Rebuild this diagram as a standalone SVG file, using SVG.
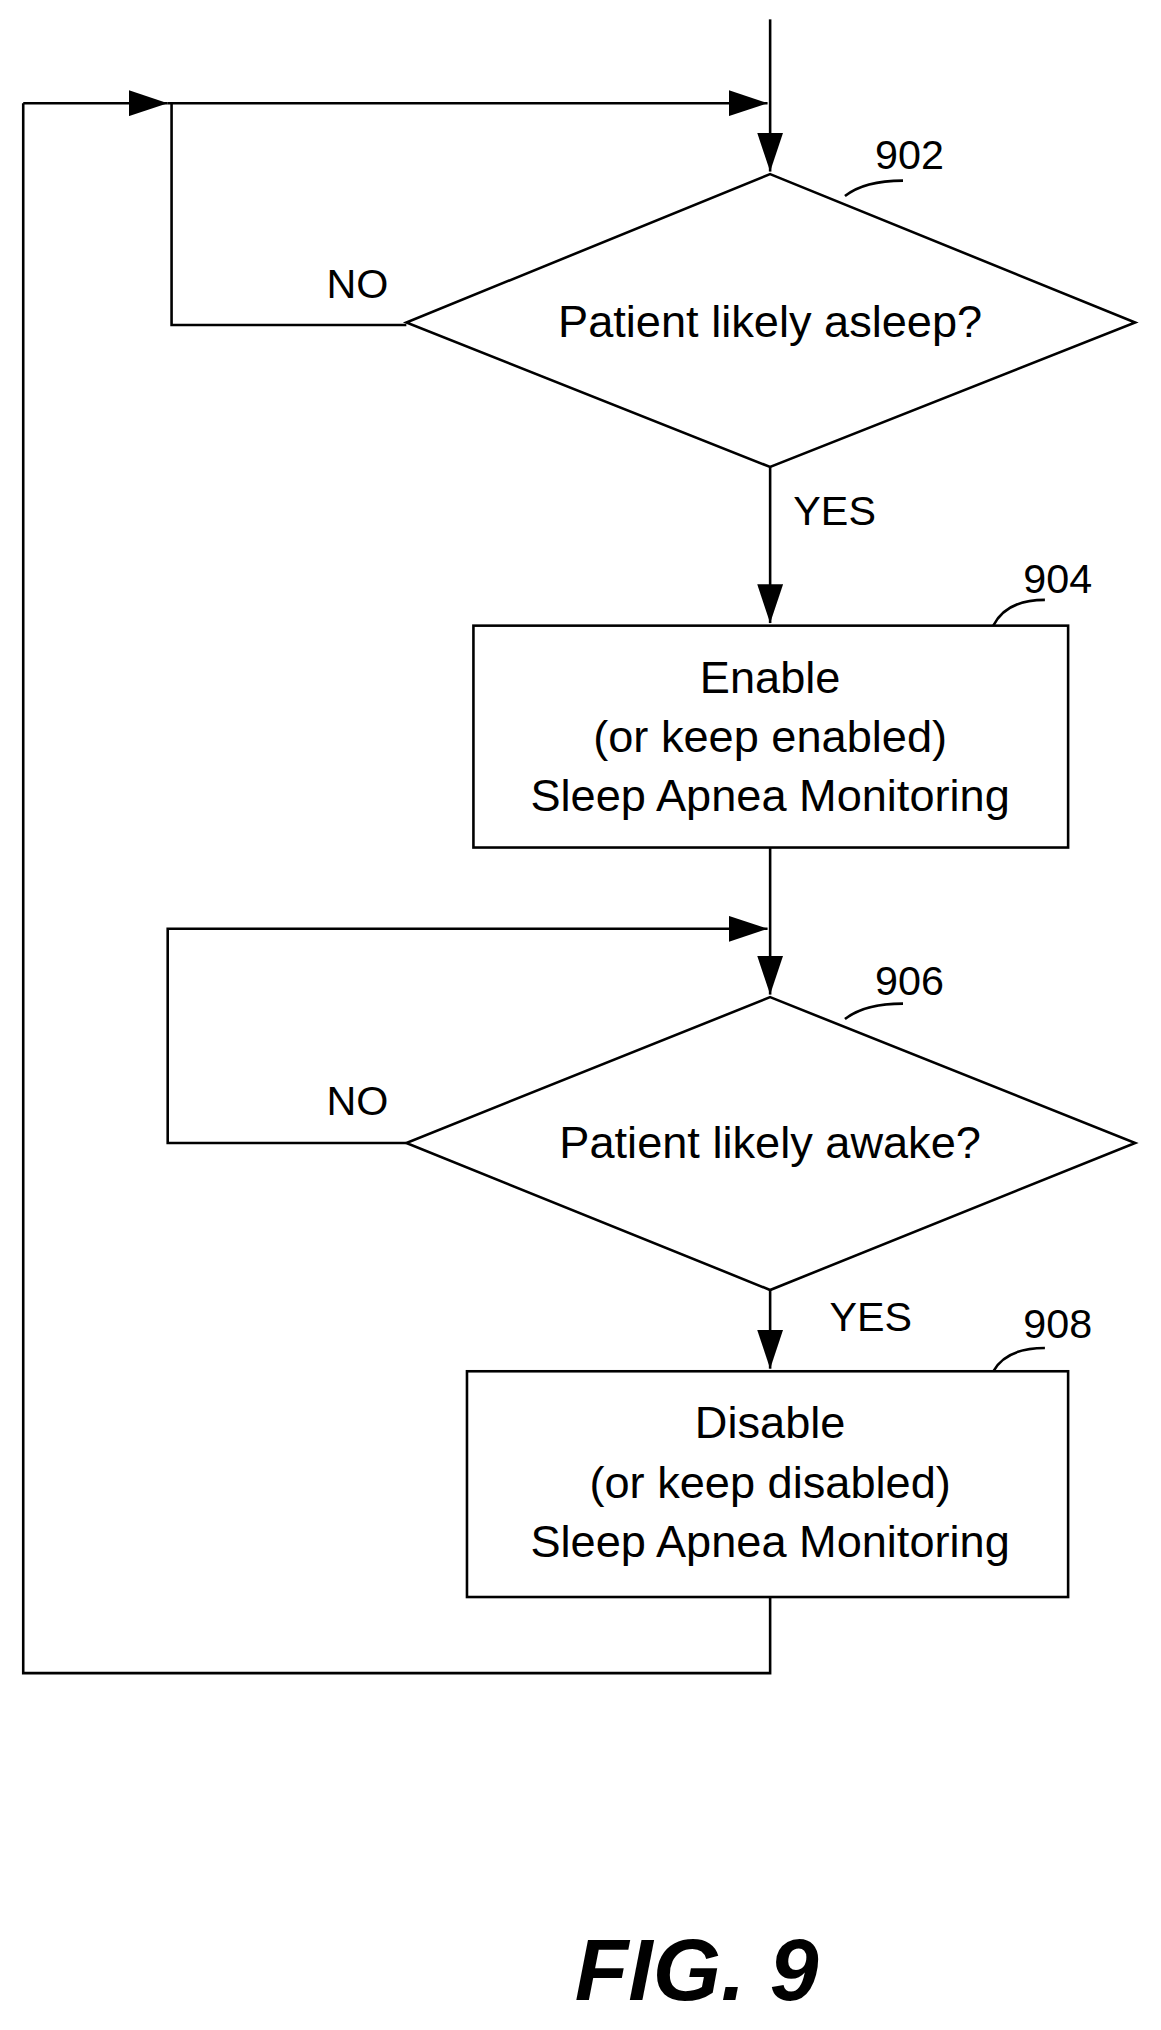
<svg xmlns="http://www.w3.org/2000/svg" width="1161" height="2030" viewBox="0 0 1161 2030">
<defs>
<marker id="ah" markerWidth="30" markerHeight="20" refX="30" refY="10" orient="auto" markerUnits="userSpaceOnUse" viewBox="0 0 30 20">
<path d="M0,0 L30,10 L0,20 z" fill="#000"/>
</marker>
<style>
.l{fill:none;stroke:#000;stroke-width:2}
.s{fill:#fff;stroke:#000;stroke-width:2}
text{font-family:"Liberation Sans",Arial,sans-serif;fill:#000}
.t{font-size:35px;text-anchor:middle}
.r{font-size:32px;text-anchor:middle}
</style>
</defs>
<rect width="1161" height="2030" fill="#fff"/>
<g transform="scale(1.29)">
<g id="connectors">
<path class="l" d="M597,15 V133" marker-end="url(#ah)"/>
<path class="l" d="M18,80 H130" marker-end="url(#ah)"/>
<path class="l" d="M130,80 H595" marker-end="url(#ah)"/>
<path class="l" d="M315,252 H133 V80"/>
<path class="l" d="M597,362 V483" marker-end="url(#ah)"/>
<path class="l" d="M597,657 V771" marker-end="url(#ah)"/>
<path class="l" d="M315,886 H130 V720 H595" marker-end="url(#ah)"/>
<path class="l" d="M597,1000 V1061" marker-end="url(#ah)"/>
<path class="l" d="M597,1238 V1297 H18 V80"/>
<path class="l" d="M655,152 Q670,140 700,140"/>
<path class="l" d="M770,485 Q780,465 810,465"/>
<path class="l" d="M655,790 Q670,778 700,778"/>
<path class="l" d="M770,1063 Q780,1045 810,1045"/>
</g>
<g id="n902">
<polygon class="s" points="597,135 880,250 597,362 315,250"/>
<text class="t" x="597" y="261">Patient likely asleep?</text>
<text class="r" x="705" y="131">902</text>
<text class="r" x="277" y="231">NO</text>
<text class="r" x="647" y="407">YES</text>
</g>
<g id="n904">
<rect class="s" x="367" y="485" width="461" height="172"/>
<text class="t" x="597" y="537">Enable</text>
<text class="t" x="597" y="583">(or keep enabled)</text>
<text class="t" x="597" y="629">Sleep Apnea Monitoring</text>
<text class="r" x="820" y="460">904</text>
</g>
<g id="n906">
<polygon class="s" points="597,773 880,886 597,1000 315,886"/>
<text class="t" x="597" y="898">Patient likely awake?</text>
<text class="r" x="705" y="771">906</text>
<text class="r" x="277" y="864">NO</text>
<text class="r" x="675" y="1032">YES</text>
</g>
<g id="n908">
<rect class="s" x="362" y="1063" width="466" height="175"/>
<text class="t" x="597" y="1115">Disable</text>
<text class="t" x="597" y="1161">(or keep disabled)</text>
<text class="t" x="597" y="1207">Sleep Apnea Monitoring</text>
<text class="r" x="820" y="1037">908</text>
</g>
<text x="540" y="1550" font-size="68" font-weight="bold" font-style="italic" text-anchor="middle">FIG. 9</text>
</g>
</svg>
